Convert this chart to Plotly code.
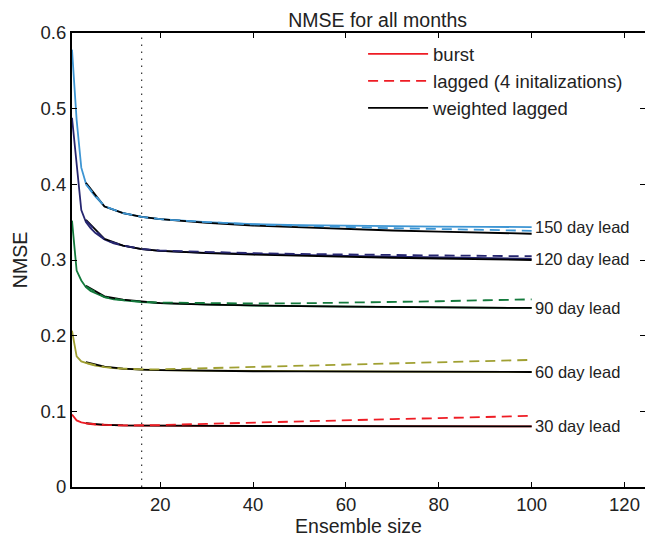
import plotly.graph_objects as go

# ---------------- data ----------------
burst_n = [1, 2, 3, 4, 5, 6, 8, 10, 12, 16, 20, 30, 40, 50, 60, 70, 80, 90, 100]
lag_n = [4, 8, 12, 16, 20, 30, 40, 50, 60, 70, 80, 90, 100]

leads = ["30 day lead", "60 day lead", "90 day lead", "120 day lead", "150 day lead"]
lead_colors = ["#ee1c24", "#a0a032", "#137a3c", "#262670", "#3d95d3"]

burst_30 = [0.0957, 0.088, 0.0855, 0.084, 0.0832, 0.0826, 0.082, 0.0816, 0.0814, 0.0812, 0.081, 0.0808, 0.0806, 0.0805, 0.0804, 0.0803, 0.0802, 0.0801, 0.080]
lagged_30 = [0.084, 0.082, 0.0814, 0.0813, 0.0818, 0.0835, 0.0853, 0.0868, 0.0882, 0.0897, 0.091, 0.0925, 0.094]
weighted_30 = [0.0845, 0.0822, 0.0815, 0.0812, 0.081, 0.0808, 0.0806, 0.0805, 0.0804, 0.0803, 0.0802, 0.0801, 0.080]

burst_60 = [0.2066, 0.1727, 0.166, 0.1635, 0.162, 0.1605, 0.1585, 0.157, 0.1562, 0.155, 0.1545, 0.1538, 0.1532, 0.153, 0.1528, 0.1526, 0.1524, 0.1522, 0.152]
lagged_60 = [0.164, 0.1585, 0.1565, 0.1555, 0.1555, 0.157, 0.1592, 0.161, 0.1625, 0.164, 0.1655, 0.167, 0.168]
weighted_60 = [0.165, 0.159, 0.1565, 0.155, 0.1545, 0.1535, 0.153, 0.1528, 0.1526, 0.1524, 0.1522, 0.152, 0.152]

burst_90 = [0.352, 0.286, 0.273, 0.264, 0.259, 0.256, 0.251, 0.248, 0.2465, 0.2445, 0.243, 0.241, 0.2398, 0.239, 0.2385, 0.238, 0.2375, 0.237, 0.2366]
lagged_90 = [0.265, 0.251, 0.247, 0.2448, 0.2438, 0.2428, 0.2425, 0.2428, 0.2435, 0.2445, 0.2455, 0.2468, 0.248]
weighted_90 = [0.266, 0.252, 0.2475, 0.2448, 0.243, 0.241, 0.2398, 0.239, 0.2385, 0.238, 0.2375, 0.237, 0.2366]

burst_120 = [0.488, 0.428, 0.366, 0.35, 0.342, 0.336, 0.327, 0.322, 0.319, 0.3145, 0.312, 0.3095, 0.308, 0.3065, 0.3055, 0.3045, 0.3035, 0.3025, 0.3017]
lagged_120 = [0.352, 0.327, 0.319, 0.3148, 0.3125, 0.3105, 0.309, 0.308, 0.307, 0.3065, 0.306, 0.3055, 0.305]
weighted_120 = [0.353, 0.328, 0.319, 0.3145, 0.312, 0.309, 0.307, 0.3055, 0.3045, 0.303, 0.302, 0.301, 0.300]

burst_150 = [0.578, 0.485, 0.422, 0.401, 0.392, 0.384, 0.371, 0.366, 0.362, 0.357, 0.354, 0.350, 0.3475, 0.346, 0.3452, 0.3447, 0.3442, 0.3438, 0.3435]
lagged_150 = [0.400, 0.371, 0.362, 0.357, 0.354, 0.350, 0.347, 0.345, 0.3435, 0.342, 0.341, 0.3398, 0.3386]
weighted_150 = [0.402, 0.3707, 0.362, 0.357, 0.354, 0.349, 0.3455, 0.343, 0.341, 0.339, 0.3375, 0.336, 0.3347]

burst_all = [burst_30, burst_60, burst_90, burst_120, burst_150]
lagged_all = [lagged_30, lagged_60, lagged_90, lagged_120, lagged_150]
weighted_all = [weighted_30, weighted_60, weighted_90, weighted_120, weighted_150]

chosen_size = 16
y_ticks = [0, 0.1, 0.2, 0.3, 0.4, 0.5, 0.6]
y_ticktext = ["0", "0.1", "0.2", "0.3", "0.4", "0.5", "0.6"]
x_ticks = [20, 40, 60, 80, 100, 120]

FONT = "Liberation Sans, Arial, Helvetica, sans-serif"
TXT = "#222222"

fig = go.Figure()

# vertical dotted marker at chosen ensemble size (on the mirrored right axis, same scale)
fig.add_trace(go.Scatter(x=[chosen_size, chosen_size], y=[0, 0.595], mode="lines",
                         line=dict(color="#333333", width=1.2, dash="1.5px,5.5px"),
                         showlegend=False, hoverinfo="skip", yaxis="y2"))

for i, lead in enumerate(leads):
    c = lead_colors[i]
    first = (i == 0)
    fig.add_trace(go.Scatter(x=burst_n, y=burst_all[i], mode="lines", name="burst",
                             line=dict(color=c, width=1.8), showlegend=first,
                             legendrank=1))
    fig.add_trace(go.Scatter(x=lag_n, y=weighted_all[i], mode="lines", name="weighted lagged",
                             line=dict(color="black", width=1.8), showlegend=first,
                             legendrank=3))
    fig.add_trace(go.Scatter(x=lag_n, y=lagged_all[i], mode="lines",
                             name="lagged (4 initalizations)",
                             line=dict(color=c, width=1.8, dash="10px,6px"), showlegend=first,
                             legendrank=2))
    fig.add_annotation(x=100.2, y=burst_all[i][-1], xref="x", yref="y", text=lead,
                       showarrow=False, xanchor="left", yanchor="middle",
                       font=dict(family=FONT, size=16.5, color=TXT))

W, H = 645, 539
L, T, B = 72, 33, 51.5
plot_w = W - L
px_per_unit = 4.643
x_max = 1 + plot_w / px_per_unit

fig.update_layout(
    width=W, height=H,
    margin=dict(l=L, r=0, t=T, b=B, pad=0),
    paper_bgcolor="white", plot_bgcolor="white",
    font=dict(family=FONT, color=TXT),
    title=dict(text="NMSE for all months", x=344 / W, xref="paper", xanchor="center",
               y=1 - 19.7 / H, yref="container", yanchor="middle",
               font=dict(family=FONT, size=19.5, color=TXT)),
    showlegend=True,
    legend=dict(x=0.508, y=0.995, xref="paper", yref="paper", xanchor="left", yanchor="top",
                bgcolor="rgba(0,0,0,0)", font=dict(family=FONT, size=18.5, color=TXT),
                itemwidth=60, tracegroupgap=0, traceorder="normal"),
    xaxis=dict(range=[1, x_max], tickvals=x_ticks, ticks="inside", ticklen=5, tickwidth=1,
               tickcolor="black", showline=True, linecolor="black", linewidth=2,
               mirror="ticks", showgrid=False, zeroline=False,
               tickfont=dict(family=FONT, size=18.5, color=TXT),
               title=dict(text="Ensemble size", font=dict(family=FONT, size=19.5, color=TXT),
                          standoff=0)),
    yaxis=dict(range=[0, 0.6], tickvals=y_ticks, ticktext=y_ticktext, ticks="inside",
               ticklen=5, tickwidth=1, tickcolor="black", showline=True, linecolor="black",
               linewidth=2, showgrid=False, zeroline=False,
               tickfont=dict(family=FONT, size=18.5, color=TXT),
               title=dict(text="NMSE", font=dict(family=FONT, size=19.5, color=TXT),
                          standoff=8)),
    yaxis2=dict(range=[0, 0.6], overlaying="y", side="right", tickvals=y_ticks,
                ticks="inside", ticklen=5, tickwidth=1, tickcolor="black",
                showticklabels=False, showline=False, showgrid=False, zeroline=False),
)

fig.write_html("out.html")
